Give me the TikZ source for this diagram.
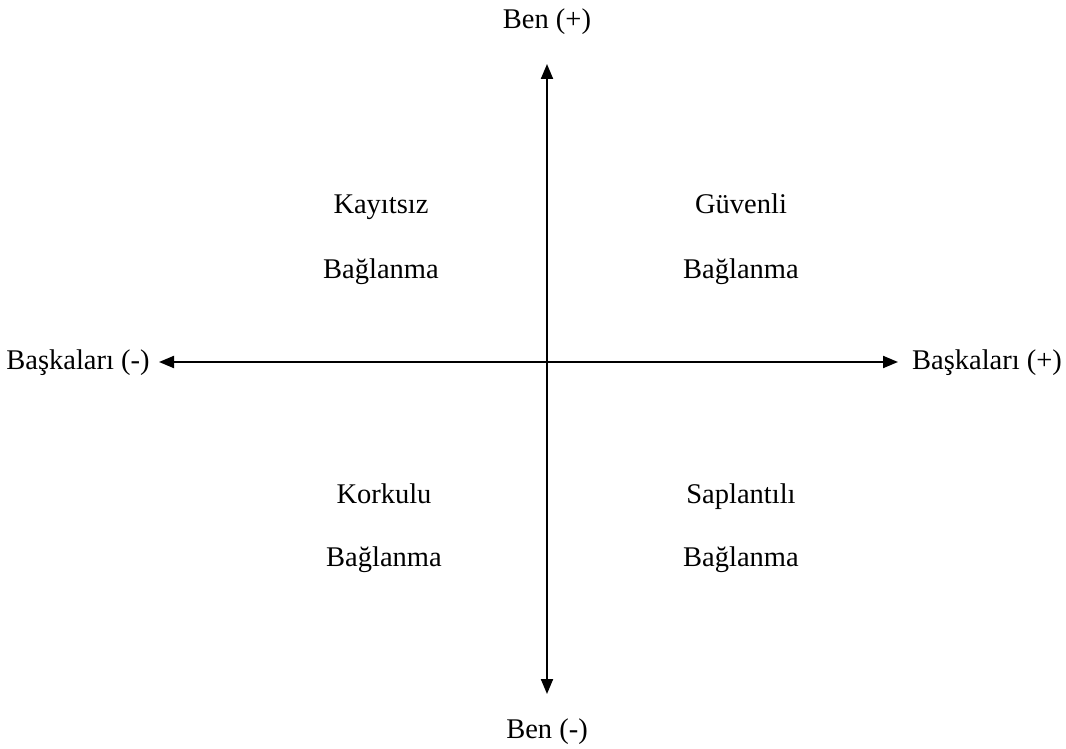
\documentclass[tikz,border=0pt]{standalone}
\usepackage{fontspec}
\setmainfont{Liberation Serif}
\usetikzlibrary{arrows.meta}
\begin{document}
\begin{tikzpicture}[x=1pt,y=-1pt,
  lbl/.style={font=\fontsize{28.5}{34}\selectfont, inner sep=0pt, anchor=base},
  axis/.style={line width=2pt, {Triangle[length=15pt,width=12pt]}-{Triangle[length=15pt,width=12pt]}}]
\useasboundingbox (0,0) rectangle (1066,749);
\coordinate (top) at (547,64);
\coordinate (bot) at (547,694);
\coordinate (lft) at (159,362);
\coordinate (rgt) at (898,362);
\draw[axis] (bot) -- (top);
\draw[axis] (lft) -- (rgt);
\node[lbl] (benp) at (547,29) {Ben (+)};
\node[lbl] (benm) at (547,738) {Ben (-)};
\node[lbl] (bm) at (78,369) {Başkaları (-)};
\node[lbl] (bp) at (987,369) {Başkaları (+)};
\node[lbl] (k1) at (381,214) {Kayıtsız};
\node[lbl] (k2) at (381,278) {Bağlanma};
\node[lbl] (g1) at (741,214) {Güvenli};
\node[lbl] (g2) at (741,278) {Bağlanma};
\node[lbl] (o1) at (384,503) {Korkulu};
\node[lbl] (o2) at (384,566) {Bağlanma};
\node[lbl] (s1) at (741,503) {Saplantılı};
\node[lbl] (s2) at (741,566) {Bağlanma};
\end{tikzpicture}
\end{document}
